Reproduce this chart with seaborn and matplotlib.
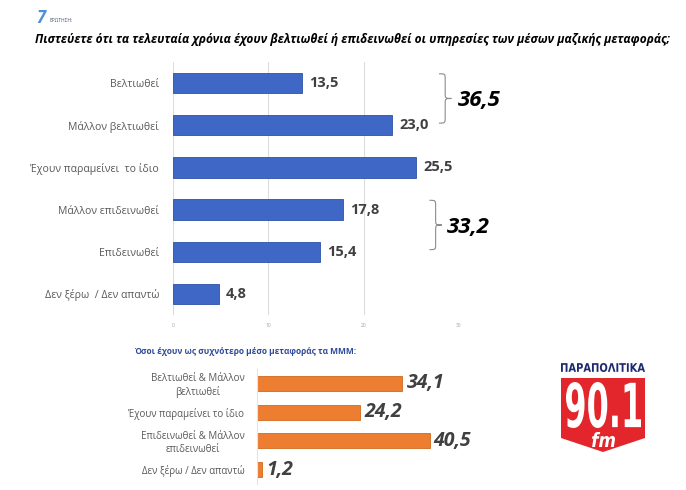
import matplotlib
matplotlib.use("Agg")
import matplotlib.pyplot as plt
import seaborn as sns
import numpy as np
from matplotlib.path import Path
from matplotlib.patches import PathPatch, Polygon
from matplotlib.textpath import TextPath
from matplotlib.font_manager import FontProperties
from matplotlib.transforms import Affine2D

sns.set_style("white")
plt.rcParams['font.family'] = ['Open Sans', 'DejaVu Sans']

# data
title = "Πιστεύετε ότι τα τελευταία χρόνια έχουν βελτιωθεί ή επιδεινωθεί οι υπηρεσίες των μέσων μαζικής μεταφοράς;"
top_cats = ['Βελτιωθεί', 'Μάλλον βελτιωθεί', 'Έχουν παραμείνει  το ίδιο',
            'Μάλλον επιδεινωθεί', 'Επιδεινωθεί', 'Δεν ξέρω  / Δεν απαντώ']
top_vals = [13.5, 23.0, 25.5, 17.8, 15.4, 4.8]
top_ticks = [0, 10, 20, 30]
groups = [(0, 1), (3, 4)]
group_totals = [36.5, 33.2]

sub_title = "Όσοι έχουν ως συχνότερο μέσο μεταφοράς τα ΜΜΜ:"
bot_cats = ['Βελτιωθεί & Μάλλον\nβελτιωθεί', 'Έχουν παραμείνει το ίδιο',
            'Επιδεινωθεί & Μάλλον\nεπιδεινωθεί', 'Δεν ξέρω / Δεν απαντώ']
bot_vals = [34.1, 24.2, 40.5, 1.2]


def fmt(v):
    return f"{v:.1f}".replace('.', ',')


W, H = 686, 490
fig = plt.figure(figsize=(W / 100, H / 100), dpi=100)


def px_axes(x0, y0, x1, y1):
    return fig.add_axes([x0 / W, 1 - y1 / H, (x1 - x0) / W, (y1 - y0) / H])


# header
fig.text(36 / W, 1 - 23 / H, "7", fontsize=12, fontweight='bold', style='italic',
         color='#4F8FD8', va='baseline')
fig.text(50 / W, 1 - 22 / H, "ΕΡΩΤΗΣΗ:", fontsize=3.5, color='#44546A', va='baseline')
fig.text(35 / W, 1 - 40 / H, title, fontsize=8.6, fontweight='bold', style='italic',
         color='black', va='center', ha='left')

# top chart
ax = px_axes(173, 62, 459, 315)
sns.barplot(x=top_vals, y=top_cats, color='#3F67C6', edgecolor='#2E52A6', linewidth=0.6,
            width=0.48, saturation=1, ax=ax, orient='h')
ax.set_xlim(0, 30)
ax.set_ylim(len(top_cats) - 0.5, -0.5)
ax.set_xticks(top_ticks)
ax.xaxis.grid(True, color='#DCDCDC', lw=0.8)
ax.set_axisbelow(True)
for s in ax.spines.values():
    s.set_visible(False)
ax.tick_params(axis='x', labelsize=3.5, labelcolor='#A0A0A0', length=3, color='#D0D0D0', pad=3)
ax.tick_params(axis='y', length=0, labelsize=7.6, labelcolor='#595959', pad=10)
ax.bar_label(ax.containers[0], labels=[fmt(v) for v in top_vals], padding=5,
             fontsize=10.5, fontweight='bold', color='#404040')


def brace(ax, x, y0, y1, w, **kw):
    ym = (y0 + y1) / 2
    d = (y1 - y0) * 0.12
    xm = x + w / 2
    verts = [(x, y0), (xm, y0), (xm, y0), (xm, y0 + d),
             (xm, ym - d), (xm, ym), (xm, ym), (x + w, ym),
             (xm, ym), (xm, ym), (xm, ym + d),
             (xm, y1 - d), (xm, y1), (xm, y1), (x, y1)]
    codes = [Path.MOVETO, Path.CURVE4, Path.CURVE4, Path.CURVE4,
             Path.LINETO, Path.CURVE4, Path.CURVE4, Path.CURVE4,
             Path.CURVE4, Path.CURVE4, Path.CURVE4,
             Path.LINETO, Path.CURVE4, Path.CURVE4, Path.CURVE4]
    ax.add_patch(PathPatch(Path(verts, codes), fill=False, clip_on=False, **kw))


brace_x = [27.9, 26.9]
label_x = [29.9, 28.7]
for (a, b), tot, bx, lx in zip(groups, group_totals, brace_x, label_x):
    brace(ax, bx, a - 0.22, b - 0.05, 1.3, color='#8C8C8C', lw=0.8)
    ax.text(lx, (a + b) / 2 - 0.08, fmt(tot), fontsize=16, fontweight='bold',
            style='italic', color='black', va='center', ha='left', clip_on=False)

# bottom chart
fig.text(245 / W, 1 - 351 / H, sub_title, fontsize=6, fontweight='bold',
         color='#2F4A9A', ha='center', va='center')
ax2 = px_axes(257, 369, 470, 484)
sns.barplot(x=bot_vals, y=bot_cats, color='#ED7D31', edgecolor='#D2691E', linewidth=0.6,
            width=0.52, saturation=1, ax=ax2, orient='h')
ax2.set_xlim(0, 50)
ax2.set_ylim(len(bot_cats) - 0.5, -0.5)
ax2.set_xticks([])
for k, s in ax2.spines.items():
    s.set_visible(k == 'left')
ax2.spines['left'].set_color('#E4E4E4')
ax2.spines['left'].set_linewidth(0.8)
ax2.tick_params(axis='y', length=0, labelsize=7, labelcolor='#595959', pad=9)
for t in ax2.get_yticklabels():
    t.set_multialignment('center')
ax2.bar_label(ax2.containers[0], labels=[fmt(v) for v in bot_vals], padding=3,
              fontsize=14, fontweight='bold', style='italic', color='#404040')

# logo
lg = px_axes(561, 355, 645, 460)
lg.set_xlim(0, 84)
lg.set_ylim(0, 105)
lg.axis('off')
lg.add_patch(Polygon([(0, 82), (84, 82), (84, 22), (42, 8), (0, 22)], closed=True,
                     color='#E3262B', lw=0))


def fit_text(ax, s, x0, y0, x1, y1, color, prop):
    tp = TextPath((0, 0), s, size=10, prop=prop)
    bb = tp.get_extents()
    tr = Affine2D().translate(-bb.x0, -bb.y0).scale((x1 - x0) / bb.width,
                                                     (y1 - y0) / bb.height).translate(x0, y0)
    ax.add_patch(PathPatch(tr.transform_path(tp), color=color, lw=0))


bold = FontProperties(family='DejaVu Sans', weight='bold')
boldit = FontProperties(family='DejaVu Sans', weight='bold', style='italic')
fit_text(lg, "ΠΑΡΑΠΟΛΙΤΙΚΑ", 0, 88, 84, 97, '#1C2A6E', bold)
fit_text(lg, "90.1", 5, 32, 80, 78, 'white', bold)
fit_text(lg, "fm", 31, 13, 54, 28, 'white', boldit)

fig.savefig("out.png", dpi=100)
